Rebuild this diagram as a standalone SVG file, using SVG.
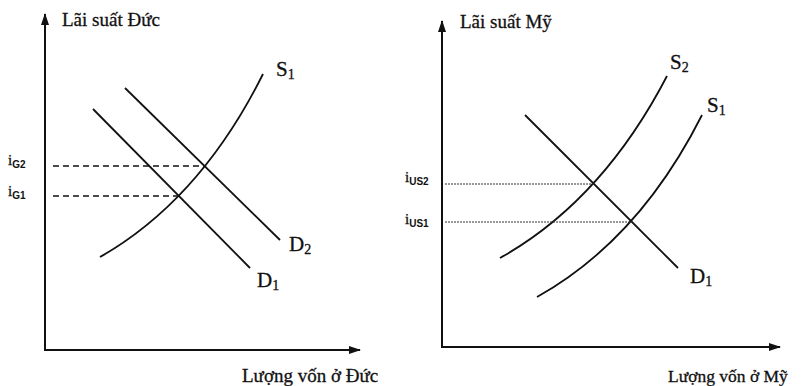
<svg xmlns="http://www.w3.org/2000/svg" width="802" height="386" viewBox="0 0 802 386">
<style>
.axis{stroke:#111;stroke-width:2;fill:none}
.curve{stroke:#111;stroke-width:1.8;fill:none}
.dash{stroke:#111;stroke-width:1.3;stroke-dasharray:6 4;fill:none}
.dot{stroke:#333;stroke-width:1;stroke-dasharray:2 1;fill:none}
.t{font-family:"Liberation Serif","Times New Roman",serif;fill:#111;font-size:19px;stroke:#111;stroke-width:0.3}
.lab{font-family:"Liberation Serif","Times New Roman",serif;fill:#111;font-size:21px;stroke:#111;stroke-width:0.3}
.i{font-family:"Liberation Serif","Times New Roman",serif;fill:#111;font-size:15px;stroke:#111;stroke-width:0.3}
.sub{font-size:10px;font-family:"Liberation Sans",Arial,sans-serif;font-weight:bold;stroke:none}
.ls{font-size:14px}
</style>
<defs>
<marker id="ah" viewBox="0 0 12 8" refX="11" refY="4" markerWidth="12" markerHeight="8" markerUnits="userSpaceOnUse" orient="auto">
<path d="M0,0 L12,4 L0,8 Z" fill="#111"/>
</marker>
</defs>
<rect width="802" height="386" fill="#fff"/>
<g id="germany-axes">
<line class="axis" x1="45" y1="350" x2="45" y2="14" marker-end="url(#ah)"/>
<line class="axis" x1="44" y1="350" x2="360" y2="350" marker-end="url(#ah)"/>
<text class="t" x="62" y="26">Lãi suất Đức</text>
<text class="t" x="242" y="382">Lượng vốn ở Đức</text>
</g>
<g id="germany-curves">
<path id="g-s1" class="curve" d="M100,257 Q200,200 263,74"/>
<line id="g-d1" class="curve" x1="93" y1="109" x2="250" y2="268"/>
<line id="g-d2" class="curve" x1="125" y1="88" x2="280" y2="240"/>
<line class="dash" x1="53" y1="166" x2="205" y2="166"/>
<line class="dash" x1="53" y1="196" x2="179" y2="196"/>
</g>
<g id="germany-labels">
<text class="lab" x="276" y="76">S<tspan class="ls" dy="3">1</tspan></text>
<text class="lab" x="289" y="251">D<tspan class="ls" dy="3">2</tspan></text>
<text class="lab" x="257" y="287">D<tspan class="ls" dy="3">1</tspan></text>
<text class="i" x="8" y="165">i<tspan class="sub" dy="3">G2</tspan></text>
<text class="i" x="8" y="196">i<tspan class="sub" dy="3">G1</tspan></text>
</g>
<g id="us-axes">
<line class="axis" x1="442" y1="347" x2="442" y2="21" marker-end="url(#ah)"/>
<line class="axis" x1="441" y1="347" x2="780" y2="347" marker-end="url(#ah)"/>
<text class="t" x="460" y="28">Lãi suất Mỹ</text>
<text class="t" x="668" y="382" style="font-size:17.5px">Lượng vốn ở Mỹ</text>
</g>
<g id="us-curves">
<path id="u-s2" class="curve" d="M500,258 Q602,201 667,76"/>
<path id="u-s1" class="curve" d="M537,297 Q639,240 702,115"/>
<line id="u-d1" class="curve" x1="525" y1="115" x2="678" y2="268"/>
<line class="dot" x1="445" y1="184" x2="594" y2="184"/>
<line class="dot" x1="445" y1="222" x2="632" y2="222"/>
</g>
<g id="us-labels">
<text class="lab" x="670" y="69">S<tspan class="ls" dy="3">2</tspan></text>
<text class="lab" x="707" y="112">S<tspan class="ls" dy="3">1</tspan></text>
<text class="lab" x="690" y="283">D<tspan class="ls" dy="3">1</tspan></text>
<text class="i" x="405" y="182">i<tspan class="sub" dy="3">US2</tspan></text>
<text class="i" x="405" y="224">i<tspan class="sub" dy="3">US1</tspan></text>
</g>
</svg>
